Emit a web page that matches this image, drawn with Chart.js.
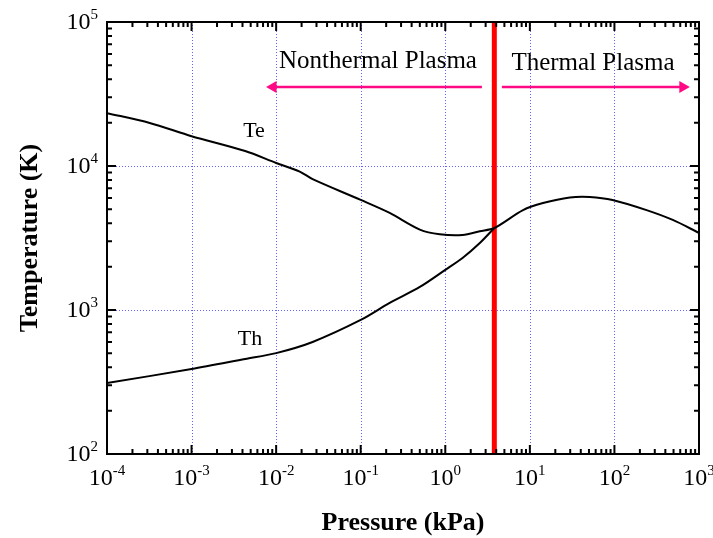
<!DOCTYPE html>
<html>
<head>
<meta charset="utf-8">
<script src="https://cdn.jsdelivr.net/npm/chart.js@4/dist/chart.umd.min.js"></script>
<style>
  body { margin: 0; background: #fff; }
  #wrap { width: 713px; height: 538px; }
</style>
</head>
<body>
<div id="wrap"><canvas id="chart-plasma"></canvas></div>
<script>
// electron temperature Te (kPa, K)
var teX = [1e-4, 3.2e-4, 1e-3, 4.3e-3, 1e-2, 0.019, 0.027, 0.1, 0.22, 0.5, 0.86, 1.6, 2.56, 3.8,
           8.3, 14.3, 29.7, 51, 95, 240, 490, 1000];
var teY = [23300, 19900, 16100, 12700, 10500, 9150, 8100, 5810, 4720, 3620, 3360, 3320, 3520, 3710,
           4940, 5530, 6050, 6100, 5810, 4940, 4220, 3430];
// heavy particle temperature Th
var thX = [1e-4, 1e-3, 4.3e-3, 1e-2, 0.027, 0.1, 0.22, 0.5, 1, 1.6, 2.56, 3.8];
var thY = [311, 389, 457, 502, 600, 853, 1120, 1445, 1900, 2296, 2917, 3710];
// boundary between regimes
var boundaryX = [3.8, 3.8];
var boundaryY = [100, 100000];
// arrows
var leftArrowX = [2.71, 0.0092];
var rightArrowX = [4.67, 644];
var arrowY = [35400, 35400];

var xTickExps = [-4, -3, -2, -1, 0, 1, 2, 3];
var yTickExps = [2, 3, 4, 5];

var serif = "'Liberation Serif', 'Times New Roman', serif";
var pink = "rgb(255, 10, 132)";

function pts(xs, ys) {
  return xs.map(function (x, i) { return { x: x, y: ys[i] }; });
}

function pow10(ctx, exp, x, y, align) {
  var base = "10", sup = String(exp);
  ctx.font = "24px " + serif;
  var wb = ctx.measureText(base).width;
  ctx.font = "15px " + serif;
  var ws = ctx.measureText(sup).width;
  var start = align === "center" ? x - (wb + ws) / 2 : x - wb - ws;
  ctx.textAlign = "left";
  ctx.textBaseline = "middle";
  ctx.font = "24px " + serif;
  ctx.fillText(base, start, y);
  ctx.font = "15px " + serif;
  ctx.fillText(sup, start + wb, y - 8);
}

var frame = {
  id: "frame",
  beforeDatasetsDraw: function (chart) {
    var c = chart.ctx, a = chart.chartArea;
    var xs = chart.scales.x, ys = chart.scales.y;
    c.save();
    c.strokeStyle = "rgba(70, 70, 255, 0.85)";
    c.lineWidth = 1;
    c.setLineDash([1, 2]);
    xTickExps.slice(1, -1).forEach(function (e) {
      var px = Math.round(xs.getPixelForValue(Math.pow(10, e))) + 0.5;
      c.beginPath(); c.moveTo(px, a.top); c.lineTo(px, a.bottom); c.stroke();
    });
    yTickExps.slice(1, -1).forEach(function (e) {
      var py = Math.round(ys.getPixelForValue(Math.pow(10, e))) + 0.5;
      c.beginPath(); c.moveTo(a.left, py); c.lineTo(a.right, py); c.stroke();
    });
    c.restore();
  },
  afterDraw: function (chart) {
    var c = chart.ctx, a = chart.chartArea;
    var xs = chart.scales.x, ys = chart.scales.y;
    c.save();
    c.strokeStyle = "#000";
    c.lineWidth = 2;
    c.strokeRect(a.left, a.top, a.right - a.left, a.bottom - a.top);
    // inward tick marks on all four sides
    c.beginPath();
    for (var e = xTickExps[0]; e < xTickExps[xTickExps.length - 1]; e++) {
      for (var k = 1; k <= 9; k++) {
        var px = xs.getPixelForValue(k * Math.pow(10, e));
        var len = k === 1 ? 9 : 5;
        c.moveTo(px, a.bottom); c.lineTo(px, a.bottom - len);
        c.moveTo(px, a.top); c.lineTo(px, a.top + len);
      }
    }
    for (var e2 = yTickExps[0]; e2 < yTickExps[yTickExps.length - 1]; e2++) {
      for (var k2 = 1; k2 <= 9; k2++) {
        var py = ys.getPixelForValue(k2 * Math.pow(10, e2));
        var len2 = k2 === 1 ? 9 : 5;
        c.moveTo(a.left, py); c.lineTo(a.left + len2, py);
        c.moveTo(a.right, py); c.lineTo(a.right - len2, py);
      }
    }
    c.stroke();

    c.fillStyle = "#000";
    xTickExps.forEach(function (e) {
      pow10(c, e, xs.getPixelForValue(Math.pow(10, e)), a.bottom + 25, "center");
    });
    yTickExps.forEach(function (e) {
      pow10(c, e, a.left - 9, ys.getPixelForValue(Math.pow(10, e)) + 1, "right");
    });

    c.textBaseline = "alphabetic";
    c.textAlign = "center";
    c.font = "bold 26px " + serif;
    c.fillText("Pressure (kPa)", (a.left + a.right) / 2, 530);
    c.save();
    c.translate(37, (a.top + a.bottom) / 2);
    c.rotate(-Math.PI / 2);
    c.fillText("Temperature (K)", 0, 0);
    c.restore();

    c.font = "25px " + serif;
    c.fillText("Nonthermal Plasma", 378, 68);
    c.fillText("Thermal Plasma", 593, 70);
    c.font = "22px " + serif;
    c.fillText("Te", 254, 137);
    c.fillText("Th", 250, 345);
    c.restore();
  }
};

var ctx = document.getElementById("chart-plasma").getContext("2d");

new Chart(ctx, {
  type: "line",
  data: {
    datasets: [
      {
        label: "Te",
        data: pts(teX, teY),
        borderColor: "#000",
        borderWidth: 2,
        pointRadius: 0,
        tension: 0.3,
      },
      {
        label: "Th",
        data: pts(thX, thY),
        borderColor: "#000",
        borderWidth: 2,
        pointRadius: 0,
        tension: 0.3,
      },
      {
        label: "boundary",
        data: pts(boundaryX, boundaryY),
        borderColor: "rgb(255, 0, 0)",
        borderWidth: 5,
        pointRadius: 0,
      },
      {
        label: "nonthermal",
        data: pts(leftArrowX, arrowY),
        borderColor: pink,
        backgroundColor: pink,
        borderWidth: 2.5,
        pointStyle: "triangle",
        pointRadius: [0, 7],
        pointRotation: 270,
        pointBorderWidth: 0,
      },
      {
        label: "thermal",
        data: pts(rightArrowX, arrowY),
        borderColor: pink,
        backgroundColor: pink,
        borderWidth: 2.5,
        pointStyle: "triangle",
        pointRadius: [0, 7],
        pointRotation: 90,
        pointBorderWidth: 0,
      },
    ],
  },
  options: {
    responsive: true,
    maintainAspectRatio: false,
    animation: false,
    layout: {
      padding: { left: 107, top: 22, right: 14, bottom: 84 },
    },
    plugins: {
      legend: { display: false },
      tooltip: { enabled: false },
    },
    scales: {
      x: {
        type: "logarithmic",
        min: 1e-4,
        max: 1e3,
        grid: { display: false, drawTicks: false },
        border: { display: false },
        ticks: { display: false },
      },
      y: {
        type: "logarithmic",
        min: 1e2,
        max: 1e5,
        grid: { display: false, drawTicks: false },
        border: { display: false },
        ticks: { display: false },
      },
    },
  },
  plugins: [frame],
});
</script>
</body>
</html>
